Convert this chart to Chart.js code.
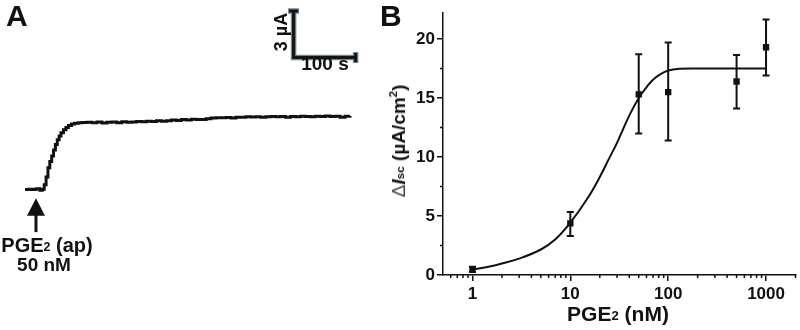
<!DOCTYPE html>
<html>
<head>
<meta charset="utf-8">
<script src="https://cdn.jsdelivr.net/npm/chart.js@4.4.1/dist/chart.umd.min.js"></script>
<style>
    body { margin: 0; background: #fff; }
    #wrap { position: relative; width: 800px; height: 330px; font-family: "Liberation Sans", Arial, sans-serif; font-weight: bold; color: #111; }
    canvas { position: absolute; top: 0; }
    #chartA { left: 0; }
    #chartB { left: 380px; }
    .lbl { position: absolute; white-space: nowrap; line-height: 1; }
    .lbl sub { font-size: 0.62em; vertical-align: 0.05em; }
    .lbl sup { font-size: 0.6em; vertical-align: 0.7em; }
</style>
</head>
<body>
<div id="wrap">
    <canvas id="chartA" width="380" height="330"></canvas>
    <canvas id="chartB" width="420" height="330"></canvas>

    <div class="lbl" style="left:6px; top:1px; font-size:30px;">A</div>
    <div class="lbl" style="left:380px; top:1px; font-size:30px;">B</div>

    <div class="lbl" style="left:281px; top:32px; font-size:18px; transform:translate(-50%,-50%) rotate(-90deg);">3 µA</div>
    <div class="lbl" style="left:325px; top:63px; font-size:19px; transform:translate(-50%,-50%);">100 s</div>

    <div class="lbl" style="left:47px; top:245px; font-size:20px; transform:translate(-50%,-50%);">PGE<sub>2</sub> (ap)</div>
    <div class="lbl" style="left:44px; top:264px; font-size:19px; transform:translate(-50%,-50%);">50 nM</div>

    <div class="lbl" style="left:618px; top:313px; font-size:21px; transform:translate(-50%,-50%);">PGE<sub>2</sub> (nM)</div>
    <div class="lbl" style="left:398px; top:141px; font-size:19px; transform:translate(-50%,-50%) rotate(-90deg);"><span style="font-weight:normal;color:#444">Δ</span><i>I</i><sub>sc</sub> (µA/cm<sup>2</sup>)</div>
</div>

<script>
// ---------- Panel A : trace courant (µA) vs temps (s) ----------
const traceTime = [0, 6, 12, 18, 24, 28, 31, 34, 37, 40, 43, 46, 49, 52, 55, 58, 62, 66, 70, 75,
    80, 86, 92, 100, 108, 116, 124, 132, 140, 148, 156, 164, 172, 180, 188, 196, 204, 212, 220, 228,
    236, 244, 252, 260, 268, 276, 284, 292, 300, 308, 316, 324, 332, 340, 348, 356, 364, 372, 380, 388,
    396, 404, 412, 420, 428, 436, 444, 452, 460, 468, 476, 484, 492, 500, 508, 516, 524];
const traceCurrent = [0, 0.02, 0, 0.05, -0.05, 0.02, 0.3, 0.8, 1.4, 1.8, 2.15, 2.55, 2.9, 3.2, 3.45, 3.65, 3.85, 4.0, 4.12, 4.22,
    4.27, 4.3, 4.32, 4.33, 4.3, 4.34, 4.28, 4.33, 4.35, 4.3, 4.36, 4.33, 4.35, 4.38, 4.37, 4.4, 4.38, 4.42, 4.4, 4.43,
    4.48, 4.45, 4.5, 4.48, 4.53, 4.5, 4.5, 4.55, 4.6, 4.62, 4.62, 4.64, 4.6, 4.66, 4.65, 4.68, 4.67, 4.68, 4.65, 4.68,
    4.7, 4.68, 4.7, 4.66, 4.7, 4.69, 4.72, 4.7, 4.68, 4.71, 4.7, 4.73, 4.7, 4.72, 4.66, 4.72, 4.74];

// barre d'échelle : 100 s / 3 µA
const scaleBarTime = [533, 433, 433];
const scaleBarCurrent = [8.5, 8.5, 11.5];

// flèche d'application (temps, haut de pointe, base de pointe, bas de tige)
const arrowTime = 17.7;
const arrowTip = -0.56;
const arrowBase = -1.69;
const arrowEnd = -2.75;

// ---------- Panel B : dose-réponse ----------
const doseNM = [1, 10, 50, 100, 500, 1000];
const deltaIsc = [0.46, 4.37, 15.3, 15.5, 16.4, 19.3];
const errHigh = [0.7, 5.34, 18.7, 19.7, 18.65, 21.65];
const errLow = [0.25, 3.3, 12.0, 11.4, 14.1, 16.9];

const fitDose = [1, 1.5, 2, 3, 5, 7, 10, 15, 20, 25, 30, 40, 50, 60, 70, 85, 100, 130, 200, 400, 1000];
const fitIsc = [0.45, 0.72, 0.97, 1.39, 2.16, 3.0, 4.43, 6.5, 8.3, 9.9, 11.2, 13.5, 15.0, 15.9, 16.55, 17.05, 17.33, 17.47, 17.5, 17.5, 17.5];

const xMajorTicks = [1, 10, 100, 1000];
const xMinorTicks = [0.6, 0.7, 0.8, 0.9, 2, 3, 4, 5, 6, 7, 8, 9, 20, 30, 40, 50, 60, 70, 80, 90,
    200, 300, 400, 500, 600, 700, 800, 900, 2000];
const yMajorTicks = [0, 5, 10, 15, 20];
const yMinorTicks = [2.5, 7.5, 12.5, 17.5];

const FONT = "'Liberation Sans', Arial, sans-serif";

// ---- plugin flèche panel A ----
const arrowPlugin = {
    id: "arrow",
    afterDatasetsDraw(chart) {
        const { ctx, scales: { x, y } } = chart;
        const px = x.getPixelForValue(arrowTime);
        ctx.save();
        ctx.fillStyle = "#111";
        ctx.strokeStyle = "#111";
        ctx.lineWidth = 3;
        ctx.beginPath();
        ctx.moveTo(px, y.getPixelForValue(arrowBase) - 1);
        ctx.lineTo(px, y.getPixelForValue(arrowEnd));
        ctx.stroke();
        ctx.beginPath();
        ctx.moveTo(px, y.getPixelForValue(arrowTip));
        ctx.lineTo(px - 9, y.getPixelForValue(arrowBase));
        ctx.lineTo(px + 9, y.getPixelForValue(arrowBase));
        ctx.closePath();
        ctx.fill();
        ctx.restore();
    }
};

const scaleBarPoints = scaleBarTime.map((t, i) => ({ x: t, y: scaleBarCurrent[i] }));

new Chart(document.getElementById("chartA"), {
    type: "line",
    data: {
        datasets: [
            {
                data: traceTime.map((t, i) => ({ x: t, y: traceCurrent[i] })),
                borderColor: "#111",
                borderWidth: 3,
                stepped: true,
                pointRadius: 0,
                clip: false,
                order: 0
            },
            {
                // coeur sombre de la barre d'échelle
                data: scaleBarPoints,
                borderColor: "#151515",
                borderWidth: 3,
                pointStyle: "line",
                pointRadius: [4.5, 0, 4.5],
                pointRotation: [90, 0, 0],
                pointBorderColor: "#151515",
                pointBorderWidth: 3,
                clip: false,
                order: 1
            },
            {
                // liseré gris-bleu
                data: scaleBarPoints,
                borderColor: "#6a8a90",
                borderWidth: 5.5,
                pointStyle: "line",
                pointRadius: [5.5, 0, 5.5],
                pointRotation: [90, 0, 0],
                pointBorderColor: "#6a8a90",
                pointBorderWidth: 5.5,
                clip: false,
                order: 2
            }
        ]
    },
    options: {
        responsive: false,
        animation: false,
        devicePixelRatio: 1,
        layout: { padding: { left: 25, right: 25, top: 4, bottom: 94 } },
        plugins: { legend: { display: false }, tooltip: { enabled: false } },
        scales: {
            x: { type: "linear", min: 0, max: 532, display: false },
            y: { type: "linear", min: -3, max: 11.5, display: false }
        }
    },
    plugins: [arrowPlugin]
});

// ---- plugin barres d'erreur + ticks mineurs panel B ----
const errorBarPlugin = {
    id: "errorBars",
    afterDatasetsDraw(chart) {
        const { ctx, scales: { x, y } } = chart;
        ctx.save();
        ctx.strokeStyle = "#111";
        ctx.lineWidth = 2;
        doseNM.forEach((d, i) => {
            const px = x.getPixelForValue(d);
            const top = y.getPixelForValue(errHigh[i]);
            const bot = y.getPixelForValue(errLow[i]);
            ctx.beginPath();
            ctx.moveTo(px, top); ctx.lineTo(px, bot);
            ctx.moveTo(px - 3.5, top); ctx.lineTo(px + 3.5, top);
            ctx.moveTo(px - 3.5, bot); ctx.lineTo(px + 3.5, bot);
            ctx.stroke();
        });
        ctx.restore();
    },
    afterDraw(chart) {
        const { ctx, scales: { x, y }, chartArea } = chart;
        ctx.save();
        ctx.strokeStyle = "#111";
        ctx.lineWidth = 1.5;
        ctx.beginPath();
        xMinorTicks.forEach(v => {
            const px = x.getPixelForValue(v);
            ctx.moveTo(px, chartArea.bottom);
            ctx.lineTo(px, chartArea.bottom + 3);
        });
        yMinorTicks.forEach(v => {
            const py = y.getPixelForValue(v);
            ctx.moveTo(chartArea.left, py);
            ctx.lineTo(chartArea.left - 3, py);
        });
        ctx.stroke();
        ctx.restore();
    }
};

new Chart(document.getElementById("chartB"), {
    type: "scatter",
    data: {
        datasets: [
            {
                data: fitDose.map((d, i) => ({ x: d, y: fitIsc[i] })),
                showLine: true,
                borderColor: "#111",
                borderWidth: 2,
                pointRadius: 0,
                tension: 0.4
            },
            {
                data: doseNM.map((d, i) => ({ x: d, y: deltaIsc[i] })),
                pointStyle: "rect",
                pointRadius: 4.5,
                backgroundColor: "#111",
                borderColor: "#111",
                borderWidth: 0
            }
        ]
    },
    options: {
        responsive: false,
        animation: false,
        devicePixelRatio: 1,
        layout: { padding: { left: 0, right: 2, top: 13, bottom: 0 } },
        plugins: { legend: { display: false }, tooltip: { enabled: false } },
        scales: {
            x: {
                type: "logarithmic",
                min: 0.5,
                max: 2000,
                afterBuildTicks: s => { s.ticks = xMajorTicks.map(v => ({ value: v })); },
                afterFit: s => { s.height = 55; },
                grid: { drawOnChartArea: false, tickLength: 6, color: "#111", lineWidth: 1.5 },
                border: { color: "#111", width: 1.5 },
                ticks: {
                    callback: v => String(v),
                    color: "#111",
                    padding: 3,
                    maxRotation: 0,
                    font: { family: FONT, size: 17, weight: "bold" }
                }
            },
            y: {
                type: "linear",
                min: 0,
                max: 22.2,
                afterBuildTicks: s => { s.ticks = yMajorTicks.map(v => ({ value: v })); },
                afterFit: s => { s.width = 63; },
                grid: { drawOnChartArea: false, tickLength: 6, color: "#111", lineWidth: 1.5 },
                border: { color: "#111", width: 1.5 },
                ticks: {
                    color: "#111",
                    padding: 2,
                    font: { family: FONT, size: 17, weight: "bold" }
                }
            }
        }
    },
    plugins: [errorBarPlugin]
});
</script>
</body>
</html>
